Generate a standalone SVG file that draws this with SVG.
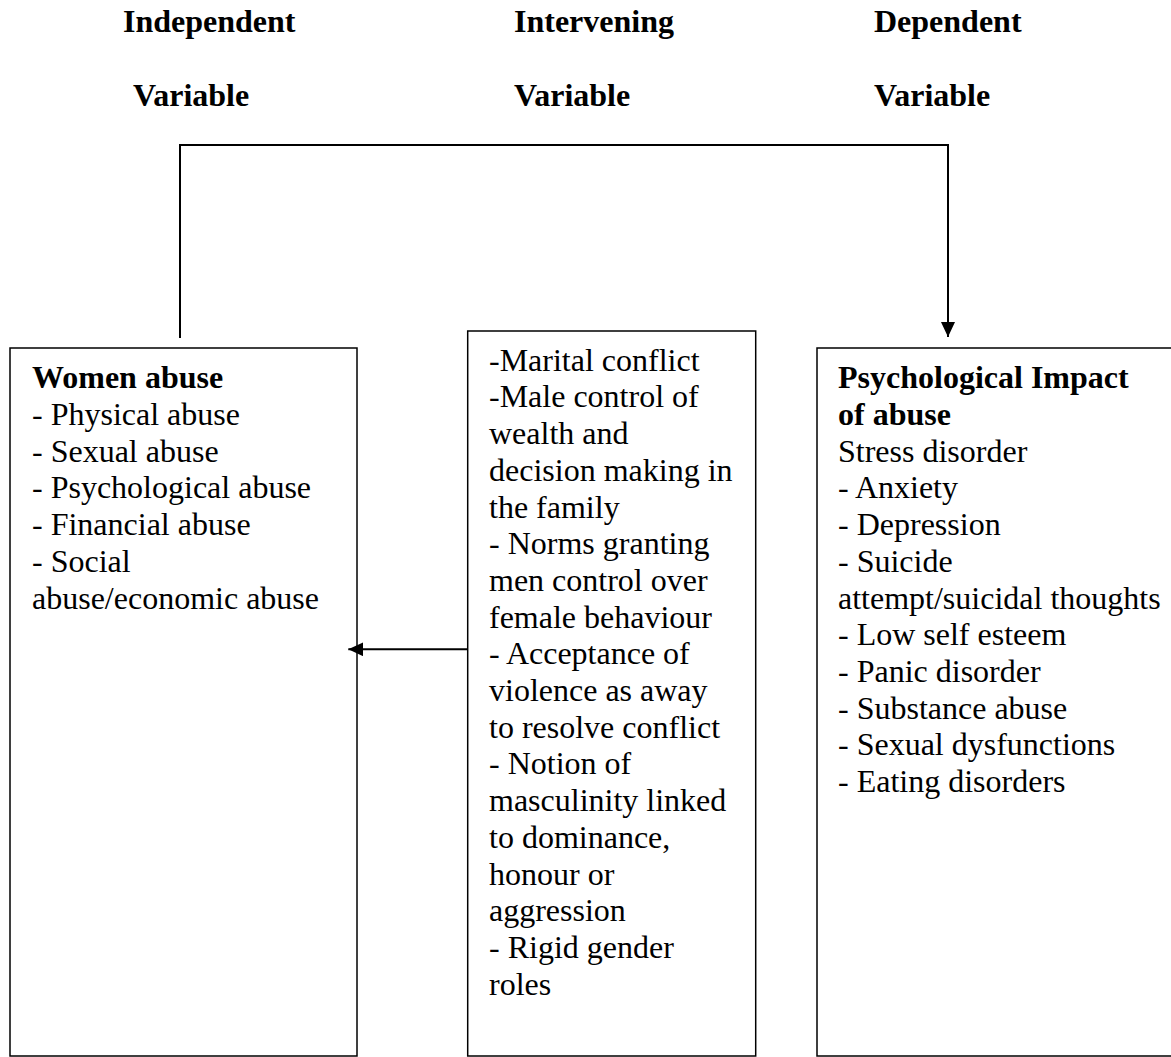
<svg xmlns="http://www.w3.org/2000/svg" width="1171" height="1057" viewBox="0 0 1171 1057">
  <style>
    .hdr { font-family: "Liberation Serif", "Times New Roman", serif; font-size: 32px; font-weight: bold; fill: #000; }
    .txt { font-family: "Liberation Serif", "Times New Roman", serif; font-size: 32px; fill: #000; }
    .b { font-weight: bold; }
    .box { fill: #fff; stroke: #000; stroke-width: 1.5; }
    .conn { fill: none; stroke: #000; stroke-width: 2; }
  </style>
  <defs>
    <marker id="arrow" markerUnits="userSpaceOnUse" viewBox="0 0 15 14" refX="15" refY="7" markerWidth="15" markerHeight="14" orient="auto">
      <path d="M0,0 L15,7 L0,14 z" fill="#000"/>
    </marker>
  </defs>
  <rect width="1171" height="1057" fill="#fff"/>

  <g id="headers">
    <text class="hdr" x="123" y="32">Independent</text>
    <text class="hdr" x="133" y="106">Variable</text>
    <text class="hdr" x="514" y="32">Intervening</text>
    <text class="hdr" x="514" y="106">Variable</text>
    <text class="hdr" x="874" y="32">Dependent</text>
    <text class="hdr" x="874" y="106">Variable</text>
  </g>

  <g id="node-independent">
    <rect class="box" x="10" y="348" width="347" height="708"/>
    <text class="txt" x="32" y="388.3">
      <tspan class="b" x="32">Women abuse</tspan>
      <tspan x="32" dy="36.7">- Physical abuse</tspan>
      <tspan x="32" dy="36.7">- Sexual abuse</tspan>
      <tspan x="32" dy="36.7">- Psychological abuse</tspan>
      <tspan x="32" dy="36.7">- Financial abuse</tspan>
      <tspan x="32" dy="36.7">- Social</tspan>
      <tspan x="32" dy="36.7">abuse/economic abuse</tspan>
    </text>
  </g>

  <g id="node-intervening">
    <rect class="box" x="467.7" y="331" width="288" height="725"/>
    <text class="txt" x="489" y="370.7">
      <tspan x="489">-Marital conflict</tspan>
      <tspan x="489" dy="36.7">-Male control of</tspan>
      <tspan x="489" dy="36.7">wealth and</tspan>
      <tspan x="489" dy="36.7">decision making in</tspan>
      <tspan x="489" dy="36.7">the family</tspan>
      <tspan x="489" dy="36.7">- Norms granting</tspan>
      <tspan x="489" dy="36.7">men control over</tspan>
      <tspan x="489" dy="36.7">female behaviour</tspan>
      <tspan x="489" dy="36.7">- Acceptance of</tspan>
      <tspan x="489" dy="36.7">violence as away</tspan>
      <tspan x="489" dy="36.7">to resolve conflict</tspan>
      <tspan x="489" dy="36.7">- Notion of</tspan>
      <tspan x="489" dy="36.7">masculinity linked</tspan>
      <tspan x="489" dy="36.7">to dominance,</tspan>
      <tspan x="489" dy="36.7">honour or</tspan>
      <tspan x="489" dy="36.7">aggression</tspan>
      <tspan x="489" dy="36.7">- Rigid gender</tspan>
      <tspan x="489" dy="36.7">roles</tspan>
    </text>
  </g>

  <g id="node-dependent">
    <rect class="box" x="817" y="348" width="400" height="708"/>
    <text class="txt" x="838" y="388.3">
      <tspan class="b" x="838">Psychological Impact</tspan>
      <tspan class="b" x="838" dy="36.7">of abuse</tspan>
      <tspan x="838" dy="36.7">Stress disorder</tspan>
      <tspan x="838" dy="36.7">- Anxiety</tspan>
      <tspan x="838" dy="36.7">- Depression</tspan>
      <tspan x="838" dy="36.7">- Suicide</tspan>
      <tspan x="838" dy="36.7">attempt/suicidal thoughts</tspan>
      <tspan x="838" dy="36.7">- Low self esteem</tspan>
      <tspan x="838" dy="36.7">- Panic disorder</tspan>
      <tspan x="838" dy="36.7">- Substance abuse</tspan>
      <tspan x="838" dy="36.7">- Sexual dysfunctions</tspan>
      <tspan x="838" dy="36.7">- Eating disorders</tspan>
    </text>
  </g>

  <g id="connectors">
    <polyline class="conn" points="180,338 180,145 948,145 948,337" marker-end="url(#arrow)"/>
    <line class="conn" x1="467.7" y1="649.3" x2="348.3" y2="649.3" marker-end="url(#arrow)"/>
  </g>
</svg>
